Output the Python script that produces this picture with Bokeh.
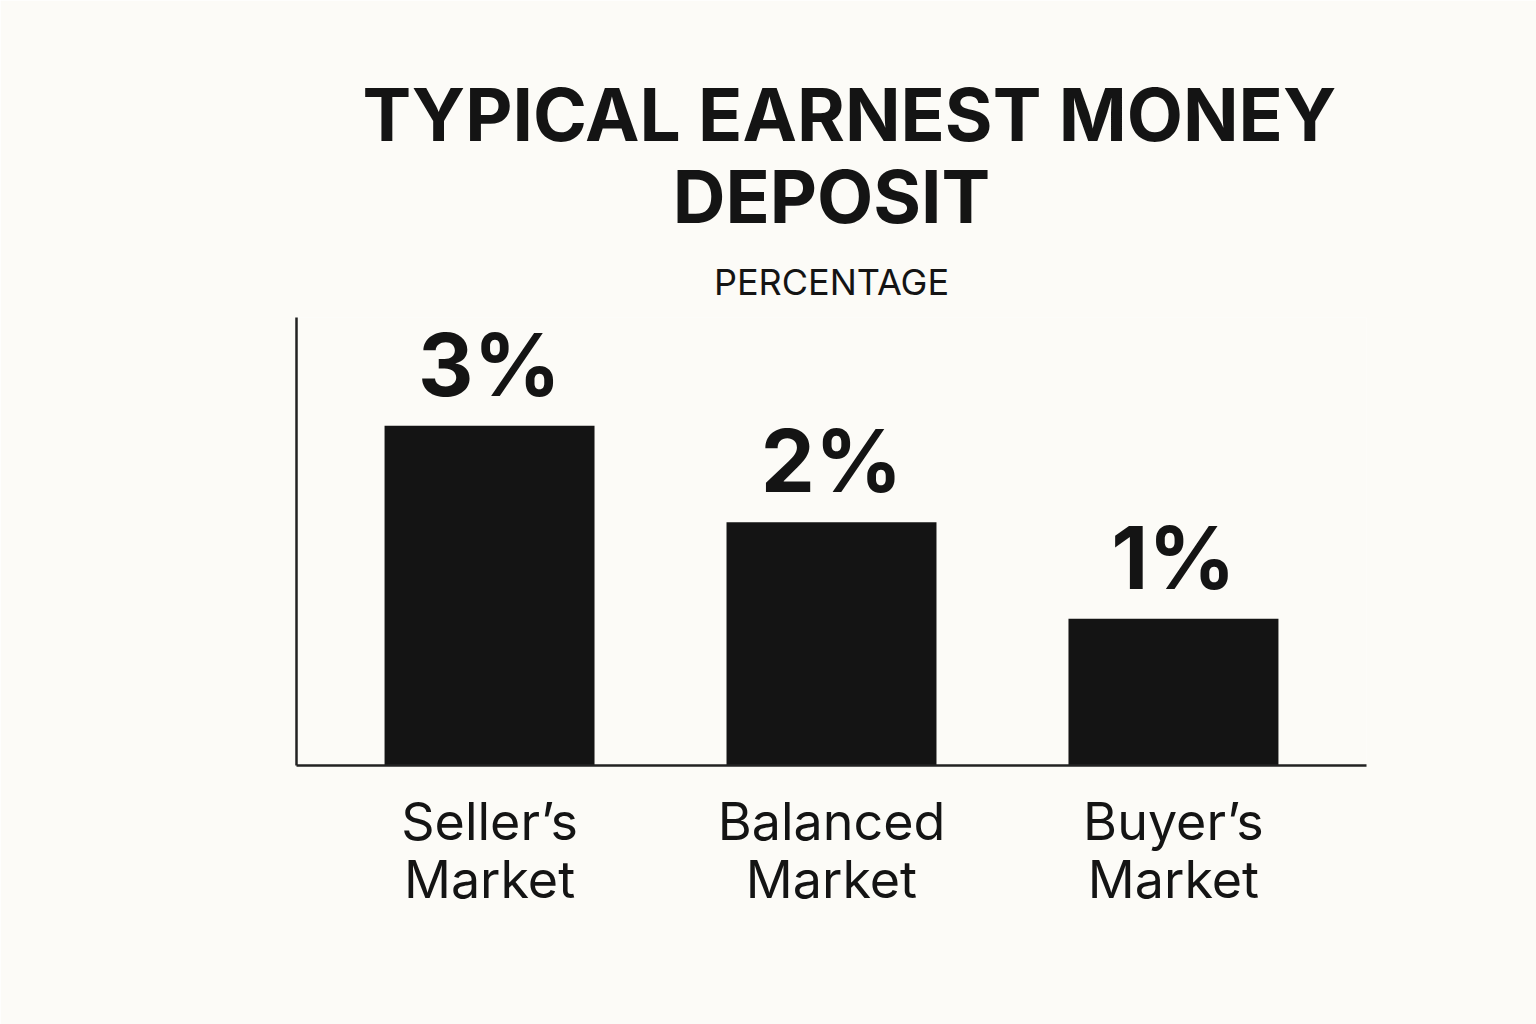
from bokeh.plotting import figure
from bokeh.models import ColumnDataSource, FactorRange, Range1d, Title, LabelSet
from bokeh.core.properties import value
from bokeh.embed import file_html
from bokeh.resources import INLINE

# ---- data ----
markets = ["Seller’s\nMarket", "Balanced\nMarket", "Buyer’s\nMarket"]
deposit_pct = [3, 2, 1]
value_labels = [f"{v}%" for v in deposit_pct]
title_line1 = "TYPICAL EARNEST MONEY"
title_line2 = "DEPOSIT"
subtitle_text = "PERCENTAGE"

# ---- style ----
BG = "#FCFBF7"
INK = "#141414"
FONT = "Inter"
BASE = -0.52  # visual baseline of the bars (bottom of the value axis)

src = ColumnDataSource(dict(market=markets, pct=deposit_pct, label=value_labels))

p = figure(
    width=1536, height=1024,
    x_range=FactorRange(*markets, range_padding=0.0645, range_padding_units="absolute"),
    y_range=Range1d(BASE, 4.12),
    output_backend="svg", toolbar_location=None, title=None,
    min_border_left=296, min_border_right=170,
    min_border_top=317, min_border_bottom=259,
    background_fill_color=BG, border_fill_color=BG,
    outline_line_color=None,
)

p.vbar(x="market", top="pct", bottom=BASE, width=0.614, source=src,
       fill_color=INK, line_color=None)

p.add_layout(LabelSet(x="market", y="pct", text="label", source=src,
                      text_align="center", text_baseline="alphabetic", y_offset=30,
                      text_font=value(FONT), text_font_style="bold",
                      text_font_size=value("86px"), text_color=INK))

p.xgrid.grid_line_color = None
p.ygrid.grid_line_color = None

for ax in (p.xaxis[0], p.yaxis[0]):
    ax.axis_line_color = "#222222"
    ax.axis_line_width = 2.5
    ax.major_tick_line_color = None
    ax.minor_tick_line_color = None

p.yaxis[0].major_label_text_font_size = "0px"
p.yaxis[0].major_label_text_color = None

xa = p.xaxis[0]
xa.major_label_text_font = FONT
xa.major_label_text_font_size = "52px"
xa.major_label_text_color = INK
xa.major_label_standoff = 18
xa.major_label_text_line_height = 0.93

p.add_layout(Title(text=subtitle_text, align="center", text_font=FONT,
                   text_font_size="36px", text_font_style="normal",
                   text_color=INK, standoff=28), "above")
p.add_layout(Title(text=title_line2, align="center", text_font=FONT,
                   text_font_size="73px", text_font_style="bold",
                   text_color=INK, standoff=6), "above")
p.add_layout(Title(text=title_line1, align="left", text_font=FONT,
                   text_font_size="73px", text_font_style="bold",
                   text_color=INK, standoff=-24, offset=66), "above")

open("out.html", "w").write(file_html(p, INLINE))
